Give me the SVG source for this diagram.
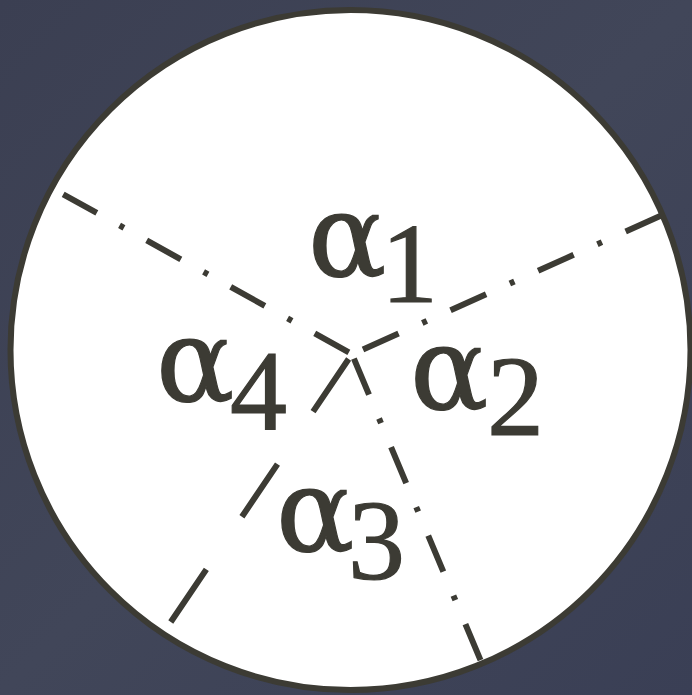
<svg xmlns="http://www.w3.org/2000/svg" width="692" height="695" viewBox="0 0 692 695">
<defs>
<linearGradient id="bg" x1="0" y1="0" x2="1" y2="1">
<stop offset="0" stop-color="#3b3f52"/>
<stop offset="0.5" stop-color="#414659"/>
<stop offset="1" stop-color="#3a3f55"/>
</linearGradient>
<style>
.ray{fill:none;stroke:#3c3b34;stroke-width:6;stroke-linecap:butt}
.dd{stroke-dasharray:39 26 5 26}
.ds{stroke-dasharray:63.5 63.5}
.lbl{fill:#3c3b34;stroke:#3c3b34;stroke-width:1.2;font-family:"Liberation Serif",serif;font-size:114px}
.al{font-family:"DejaVu Serif",serif;font-size:116px}
</style>
</defs>
<rect width="692" height="695" fill="url(#bg)"/>
<g id="disc">
<circle cx="350.5" cy="350" r="340" fill="#ffffff"/>
</g>
<g id="connectors">
<line class="ray dd" x1="348.85" y1="352.26" x2="63.2" y2="194.3"/>
<line class="ray dd" x1="363" y1="349.6" x2="661.4" y2="215.4"/>
<line class="ray ds" x1="348.64" y1="358.97" x2="170" y2="623.1"/>
<line class="ray dd" x1="353.9" y1="358.6" x2="480.5" y2="660.1"/>
</g>
<g id="rim">
<circle cx="350.5" cy="350" r="340" fill="none" stroke="#3c3b34" stroke-width="6"/>
</g>
<g id="label-a1"><text class="lbl"><tspan class="al" x="308" y="276">α</tspan><tspan x="381" y="302">1</tspan></text></g>
<g id="label-a4"><text class="lbl"><tspan class="al" x="156" y="401">α</tspan><tspan x="230" y="430">4</tspan></text></g>
<g id="label-a2"><text class="lbl"><tspan class="al" x="410" y="409">α</tspan><tspan x="487" y="435">2</tspan></text></g>
<g id="label-a3"><text class="lbl"><tspan class="al" x="276" y="551">α</tspan><tspan x="348" y="579">3</tspan></text></g>
</svg>
